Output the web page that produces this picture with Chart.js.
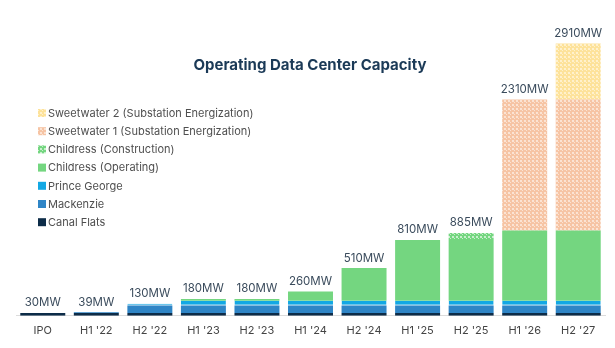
<!DOCTYPE html>
<html>
<head>
<meta charset="utf-8">
<script src="https://cdn.jsdelivr.net/npm/chart.js@4.4.1/dist/chart.umd.min.js"></script>
<style>
  html, body { margin: 0; padding: 0; background: #fff; }
  #wrap { width: 615px; height: 348px; position: relative; }
</style>
</head>
<body>
<div id="wrap"><canvas id="chartCapacity"></canvas></div>
<script>
var periods = ["IPO", "H1 '22", "H2 '22", "H1 '23", "H2 '23", "H1 '24", "H2 '24", "H1 '25", "H2 '25", "H1 '26", "H2 '27"];

// MW per site and period
var canalFlats    = [30, 30, 30, 30, 30, 30, 30, 30, 30, 30, 30];
var mackenzie     = [0, 9, 80, 80, 80, 80, 80, 80, 80, 80, 80];
var princeGeorge  = [0, 0, 20, 50, 50, 50, 50, 50, 50, 50, 50];
var childressOp   = [0, 0, 0, 20, 20, 100, 350, 650, 650, 750, 750];
var childressCon  = [0, 0, 0, 0, 0, 0, 0, 0, 75, 0, 0];
var sweetwater1   = [0, 0, 0, 0, 0, 0, 0, 0, 0, 1400, 1400];
var sweetwater2   = [0, 0, 0, 0, 0, 0, 0, 0, 0, 0, 600];

var FONT = "Inter, 'Open Sans', sans-serif";

// small dotted fill for planned capacity
function dots(base, dot) {
  var c = document.createElement('canvas');
  c.width = 4; c.height = 4;
  var g = c.getContext('2d');
  g.fillStyle = base;
  g.fillRect(0, 0, 4, 4);
  g.fillStyle = dot;
  g.fillRect(0, 0, 2, 2);
  g.fillRect(2, 2, 1, 1);
  return g.createPattern(c, 'repeat');
}

var datasets = [
  { label: 'Canal Flats', data: canalFlats, backgroundColor: '#0d2c48' },
  { label: 'Mackenzie', data: mackenzie, backgroundColor: '#2f85c6' },
  { label: 'Prince George', data: princeGeorge, backgroundColor: '#13a8e4',
    borderSkipped: false, borderWidth: { bottom: 1 }, borderColor: '#8fd0f0' },
  { label: 'Childress (Operating)', data: childressOp, backgroundColor: '#74d680' },
  { label: 'Childress (Construction)', data: childressCon, backgroundColor: dots('#74d680', '#c9efcd') },
  { label: 'Sweetwater 1 (Substation Energization)', data: sweetwater1, backgroundColor: dots('#f6c4a4', '#fbe3d3') },
  { label: 'Sweetwater 2 (Substation Energization)', data: sweetwater2, backgroundColor: dots('#fde29a', '#fff1cc') }
];
datasets.forEach(function(d) {
  d.stack = 's';
  d.categoryPercentage = 0.84;
  d.barPercentage = 1;
});

// title, legend and totals are painted straight onto the canvas
var overlay = {
  id: 'overlay',
  afterDraw: function(chart) {
    var ctx = chart.ctx;
    ctx.save();

    ctx.fillStyle = '#1b3a57';
    ctx.font = "bold 15px " + FONT;
    ctx.textAlign = 'center';
    ctx.textBaseline = 'middle';
    ctx.fillText('Operating Data Center Capacity', 310, 65);

    // legend, top to bottom in reverse stack order
    ctx.font = "11px " + FONT;
    ctx.textAlign = 'left';
    for (var i = 0; i < datasets.length; i++) {
      var ds = datasets[datasets.length - 1 - i];
      var y = 113 + i * 18.2;
      ctx.fillStyle = ds.backgroundColor;
      ctx.fillRect(38, y - 4, 8, 8);
      ctx.fillStyle = '#4f4f4f';
      ctx.fillText(ds.label, 48, y + 0.5);
    }

    // stack totals
    var yScale = chart.scales.y;
    var xScale = chart.scales.x;
    ctx.font = "11.5px " + FONT;
    ctx.textAlign = 'center';
    ctx.fillStyle = '#3a4b5c';
    periods.forEach(function(p, k) {
      var total = 0;
      datasets.forEach(function(ds) { total += ds.data[k]; });
      var top = yScale.getPixelForValue(total);
      ctx.fillText(total + 'MW', xScale.getPixelForValue(k), top - 10);
    });
    ctx.restore();
  }
};

new Chart(document.getElementById('chartCapacity'), {
  type: 'bar',
  data: { labels: periods, datasets: datasets },
  options: {
    responsive: true,
    maintainAspectRatio: false,
    animation: false,
    layout: { padding: { left: 16, right: 10, top: 20, bottom: 3 } },
    plugins: { legend: { display: false }, tooltip: { enabled: false } },
    scales: {
      x: {
        stacked: true,
        grid: { display: false, drawTicks: false },
        border: { color: '#dcdcdc', width: 1 },
        ticks: { color: '#444', font: { family: FONT, size: 11 }, padding: 8 }
      },
      y: {
        stacked: true,
        display: false,
        min: 0,
        max: 3160
      }
    }
  },
  plugins: [overlay]
});
</script>
</body>
</html>
